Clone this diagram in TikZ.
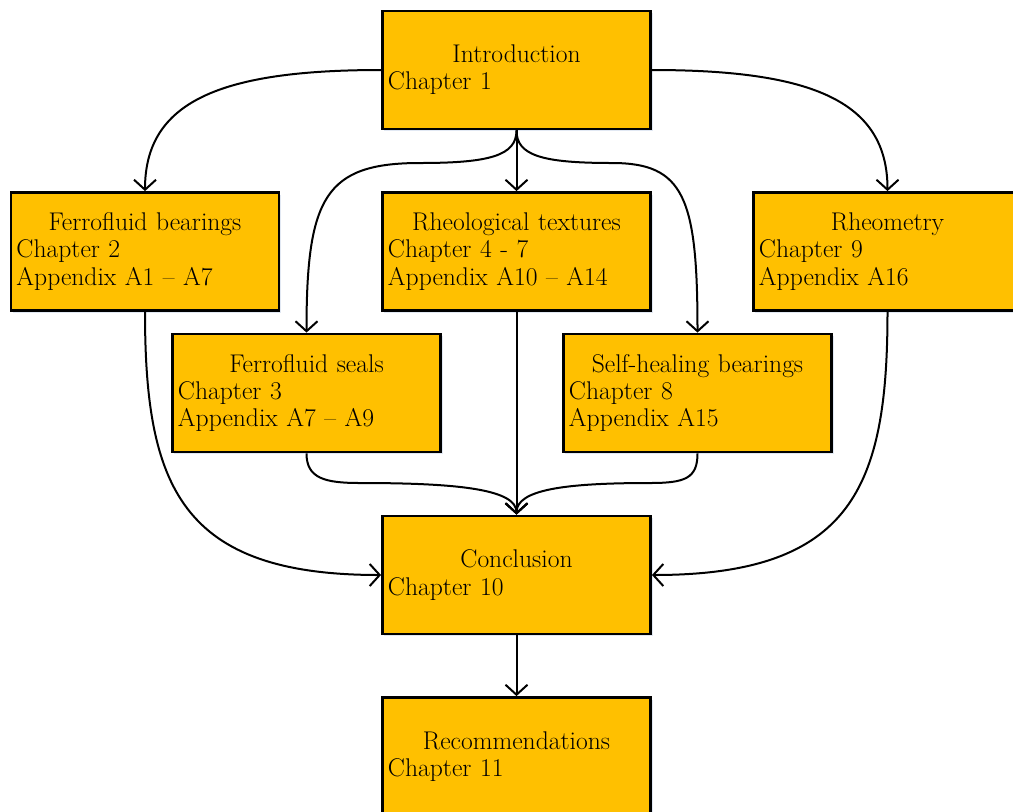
\documentclass[tikz,border=0pt]{standalone}
\usetikzlibrary{arrows.meta,shadows}
\definecolor{boxgold}{HTML}{FFC000}
\definecolor{shadowblue}{HTML}{9DB3D6}
\begin{document}
\begin{tikzpicture}[x=0.025cm,y=-0.025cm,
  box/.style={draw, line width=0.07cm, fill=boxgold,
    minimum width=6.7cm, minimum height=2.95cm, text width=6.425cm,
    inner xsep=0.1375cm, inner ysep=0pt, align=left,
    font=\fontsize{18.2}{19.3}\selectfont,
    drop shadow={opacity=0.3, fill=shadowblue, shadow xshift=0.05cm, shadow yshift=-0.06cm}},
  conn/.style={line width=0.05cm, -{Straight Barb[length=0.25cm,width=0.55cm]}}]
\useasboundingbox (0,0) rectangle (1013,811);
\node[box] (intro) at (516.5,70) {\makebox[\linewidth]{Introduction}\\Chapter 1};
\node[box] (fb) at (145,251.5) {\makebox[\linewidth]{Ferrofluid bearings}\\Chapter 2\\Appendix A1 -- A7};
\node[box] (rt) at (516.5,251.5) {\makebox[\linewidth]{Rheological textures}\\Chapter 4 - 7\\Appendix A10 -- A14};
\node[box] (rh) at (887.5,251.5) {\makebox[\linewidth]{Rheometry}\\Chapter 9\\Appendix A16};
\node[box] (fs) at (306.5,393) {\makebox[\linewidth]{Ferrofluid seals}\\Chapter 3\\Appendix A7 -- A9};
\node[box] (sh) at (697.5,393) {\makebox[\linewidth]{Self-healing bearings}\\Chapter 8\\Appendix A15};
\node[box] (co) at (516.5,575) {\makebox[\linewidth]{Conclusion}\\Chapter 10};
\node[box] (re) at (516.5,756.5) {\makebox[\linewidth]{Recommendations}\\Chapter 11};
\coordinate (j1) at (420,163);
\coordinate (j2) at (612,163);
\coordinate (j3) at (360,483);
\coordinate (j4) at (650,483);
\draw[conn] (intro.west) .. controls +(-160,0) and +(0,-90) .. (fb.north);
\draw[conn] (intro.east) .. controls +(160,0) and +(0,-90) .. (rh.north);
\draw[conn] (intro.south) -- (rt.north);
\draw[conn] (intro.south) .. controls +(0,25) and +(70,0) .. (j1) .. controls +(-95,0) and +(0,-135) .. (fs.north);
\draw[conn] (intro.south) .. controls +(0,25) and +(-70,0) .. (j2) .. controls +(72,0) and +(0,-135) .. (sh.north);
\draw[conn] (fb.south) .. controls +(0,175) and +(-200,0) .. (co.west);
\draw[conn] (rh.south) .. controls +(0,175) and +(200,0) .. (co.east);
\draw[conn] (rt.south) -- (co.north);
\draw[conn] (fs.south) .. controls +(0,25) and +(-35,0) .. (j3) .. controls +(100,0) and +(0,-25) .. (co.north);
\draw[conn] (sh.south) .. controls +(0,25) and +(35,0) .. (j4) .. controls +(-85,0) and +(0,-25) .. (co.north);
\draw[conn] (co.south) -- (re.north);
\end{tikzpicture}
\end{document}
